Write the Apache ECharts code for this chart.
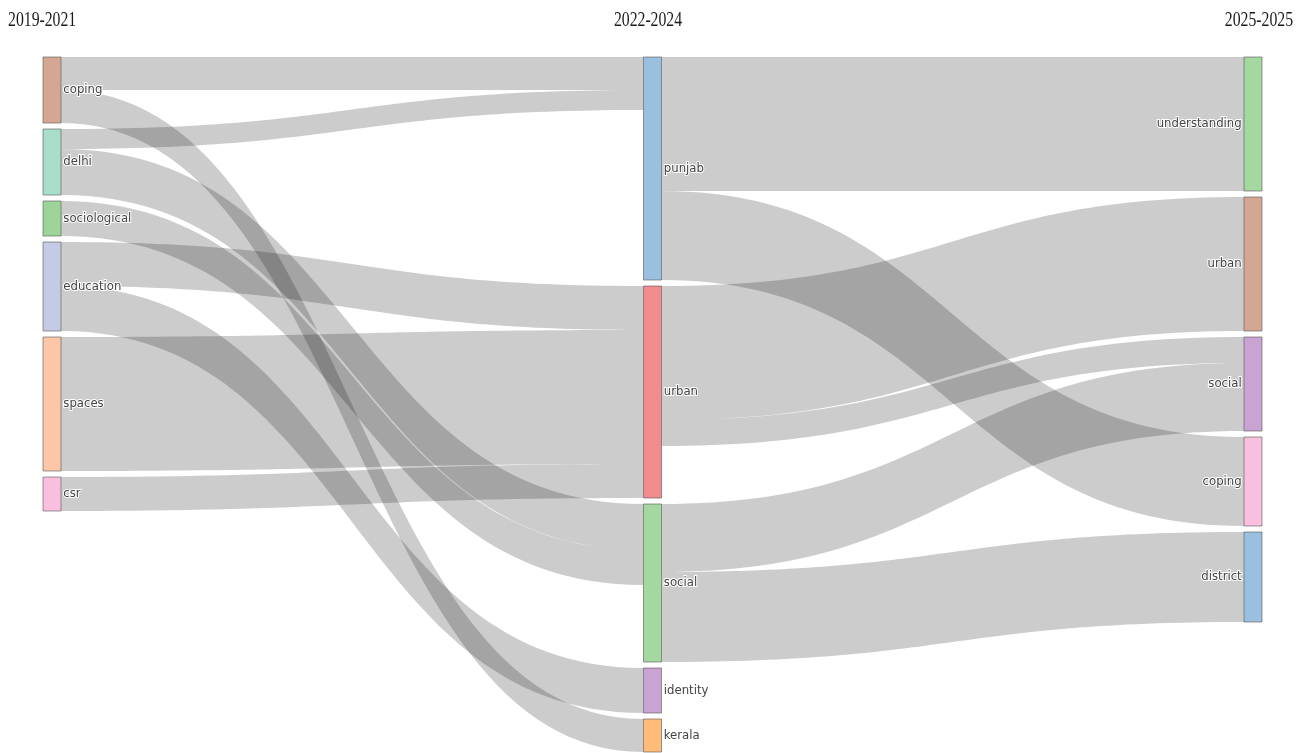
<!DOCTYPE html>
<html>
<head>
<meta charset="utf-8">
<title>Sankey</title>
<script src="https://cdn.jsdelivr.net/npm/echarts@6/dist/echarts.min.js"></script>
<style>
  html, body { margin: 0; padding: 0; background: #fff; }
  #main { width: 1302px; height: 753px; }
</style>
</head>
<body>
<div id="main"></div>
<script>
  // periods (columns)
  const periods = ['2019-2021', '2022-2024', '2025-2025'];

  // terms of each period, top to bottom
  const terms1 = ['coping', 'delhi', 'sociological', 'education', 'spaces', 'csr'];
  const terms2 = ['punjab', 'urban', 'social', 'identity', 'kerala'];
  const terms3 = ['understanding', 'urban', 'social', 'coping', 'district'];

  // flows 2019-2021 -> 2022-2024
  const src1 = ['coping', 'coping', 'delhi', 'delhi', 'sociological', 'education', 'education', 'spaces', 'csr'];
  const dst1 = ['punjab', 'kerala', 'punjab', 'social', 'social', 'urban', 'identity', 'urban', 'urban'];
  const val1 = [33, 33, 20, 46, 35, 44, 45, 134, 34];

  // flows 2022-2024 -> 2025-2025
  const src2 = ['punjab', 'punjab', 'urban', 'urban', 'social', 'social'];
  const dst2 = ['understanding', 'coping', 'urban', 'social', 'social', 'district'];
  const val2 = [134, 89, 134, 26, 68, 90];

  // node colours
  const colors1 = ['#d3a792', '#a9decb', '#9ed49a', '#c5cbe5', '#fcc6a8', '#f8c0de'];
  const colors2 = ['#9bbfde', '#f28b8d', '#a5d8a1', '#c9a3d3', '#febc78'];
  const colors3 = ['#a5d8a1', '#d3a792', '#c9a3d3', '#f8bfdf', '#9bbfde'];

  const key = (col, term) => periods[col] + ':' + term;

  let nodes = [];
  terms1.forEach((t, i) => nodes.push({ name: key(0, t), itemStyle: { color: colors1[i] } }));
  terms2.forEach((t, i) => nodes.push({ name: key(1, t), itemStyle: { color: colors2[i] } }));
  terms3.forEach((t, i) => nodes.push({
    name: key(2, t), itemStyle: { color: colors3[i] }, label: { position: 'left', distance: 2 }
  }));

  let links = [];
  src1.forEach((s, i) => links.push({ source: key(0, s), target: key(1, dst1[i]), value: val1[i] }));
  src2.forEach((s, i) => links.push({ source: key(1, s), target: key(2, dst2[i]), value: val2[i] }));

  const headFont = '21px "Liberation Serif", "Times New Roman", serif';

  let myChart = echarts.init(document.getElementById('main'));
  let option = {
    animation: false,
    graphic: [
      { type: 'text', x: 8, y: 20, scaleX: 0.75,
        style: { text: periods[0], font: headFont, fill: '#1a1a1a', align: 'left', verticalAlign: 'middle' } },
      { type: 'text', x: 648, y: 20, scaleX: 0.75,
        style: { text: periods[1], font: headFont, fill: '#1a1a1a', align: 'center', verticalAlign: 'middle' } },
      { type: 'text', x: 1293, y: 20, scaleX: 0.75,
        style: { text: periods[2], font: headFont, fill: '#1a1a1a', align: 'right', verticalAlign: 'middle' } }
    ],
    series: [{
      type: 'sankey',
      left: 43,
      right: 40,
      top: 57,
      bottom: 1,
      nodeWidth: 18,
      nodeGap: 6,
      nodeAlign: 'left',
      // keep the column order as given
      layoutIterations: 0,
      draggable: false,
      emphasis: { disabled: true },
      data: nodes,
      links: links,
      itemStyle: {
        borderColor: '#555',
        borderWidth: 0.6
      },
      lineStyle: {
        color: '#000',
        opacity: 0.2,
        curveness: 0.5
      },
      label: {
        position: 'right',
        distance: 2,
        color: '#444',
        fontSize: 13,
        fontFamily: '"DejaVu Sans Condensed", "Liberation Sans Narrow", sans-serif',
        textBorderColor: '#fff',
        textBorderWidth: 2,
        formatter: function (p) {
          return p.name.split(':')[1];
        }
      }
    }]
  };
  myChart.setOption(option);
</script>
</body>
</html>
